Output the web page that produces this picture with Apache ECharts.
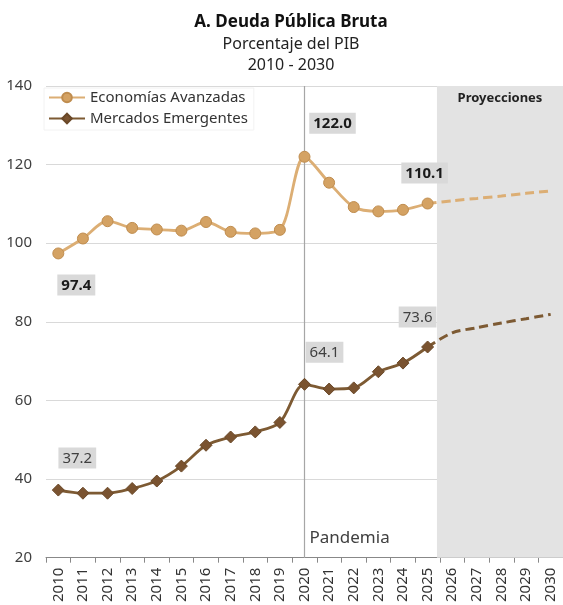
<!DOCTYPE html>
<html>
<head>
<meta charset="utf-8">
<script src="https://cdn.jsdelivr.net/npm/echarts@6/dist/echarts.min.js"></script>
<style>html,body{margin:0;padding:0;background:#fff}#c{width:563px;height:605px}</style>
</head>
<body>
<div id="c"></div>
<script>
const years = ['2010','2011','2012','2013','2014','2015','2016','2017','2018','2019','2020','2021','2022','2023','2024','2025','2026','2027','2028','2029','2030'];
const aeActual = [97.4,101.2,105.6,103.9,103.5,103.2,105.4,102.9,102.5,103.4,122.0,115.4,109.2,108.1,108.5,110.1];
const aeProj = [110.1,110.8,111.4,112.0,112.7,113.3];
const emActual = [37.2,36.4,36.4,37.6,39.5,43.3,48.6,50.7,52.0,54.4,64.1,62.9,63.2,67.3,69.5,73.6];
const emProj = [73.6,77.2,78.5,79.7,80.8,81.9];
const yTicks = {min:20, max:140, interval:20};
const pandemicIndex = 10;
const projStartIndex = 15.38;

const FONT = 'Noto Sans';
const aeColor = '#dcae74', aeMarker = '#d4a263', aeBorder = '#bf8c4e';
const emColor = '#7d5a33', emMarker = '#7a5330';

const aeLabels = {
  0: {position:'bottom', distance:15, offset:[18,0]},
  10:{position:'top', distance:17, offset:[28,0]},
  15:{position:'top', distance:14, offset:[-3,0]}
};
const emLabels = {
  0: {position:'top', distance:15, offset:[19,0]},
  10:{position:'top', distance:15, offset:[20,0]},
  15:{position:'top', distance:13, offset:[-10,0]}
};
function withLabels(arr, cfg, style){
  return arr.map((v,i)=> cfg[i] ? {value:v, label:Object.assign({show:true, formatter:(p)=>p.value.toFixed(1)}, style, cfg[i])} : v);
}
const labelBase = {backgroundColor:'#d9d9d9', padding:[3,4,2,4], fontSize:15, lineHeight:16, fontFamily:FONT};
const aeLabelStyle = Object.assign({}, labelBase, {color:'#1a1a1a', fontWeight:'bold'});
const emLabelStyle = Object.assign({}, labelBase, {color:'#404040'});
const pad = n => Array(n).fill(null);

const chart = echarts.init(document.getElementById('c'), null, {renderer:'canvas'});
chart.setOption({
  animation:false,
  textStyle:{fontFamily:FONT},
  title:{
    text:'A. Deuda Pública Bruta',
    subtext:'Porcentaje del PIB\n2010 - 2030',
    left:286, textAlign:'center', top:9, itemGap:3,
    textStyle:{fontSize:17, fontWeight:'bold', color:'#111', fontFamily:FONT},
    subtextStyle:{fontSize:16, color:'#222', fontFamily:FONT, lineHeight:21}
  },
  legend:{
    data:['Economías Avanzadas','Mercados Emergentes'],
    orient:'vertical', left:44, top:88, itemWidth:36, itemHeight:12, itemGap:6,
    backgroundColor:'#fff', borderColor:'#f2f2f2', borderWidth:1, padding:[2,6,4,4],
    textStyle:{fontSize:15, color:'#333', fontFamily:FONT}
  },
  grid:{left:46, right:-2, top:86, bottom:47, containLabel:false},
  xAxis:[{
    type:'category', data:years, boundaryGap:true,
    axisLine:{lineStyle:{color:'#888', width:1}},
    axisTick:{show:true, length:5, lineStyle:{color:'#888'}},
    axisLabel:{rotate:90, fontSize:15, color:'#333', margin:10, fontFamily:FONT},
    splitLine:{show:false}
  },{
    type:'value', min:-0.5, max:years.length-0.5, show:false, splitLine:{show:false}
  }],
  yAxis:{
    type:'value', min:yTicks.min, max:yTicks.max, interval:yTicks.interval,
    axisLine:{show:false}, axisTick:{show:false},
    axisLabel:{fontSize:15, color:'#404040', margin:14, fontFamily:FONT},
    splitLine:{lineStyle:{color:'#d9d9d9', width:1}}
  },
  series:[
    {
      name:'bg', type:'line', xAxisIndex:1, data:[], silent:true,
      markArea:{silent:true, itemStyle:{color:'#e3e3e3'},
        label:{show:true, position:'insideTop', distance:6, formatter:'Proyecciones', fontSize:13, fontWeight:'bold', color:'#222', fontFamily:FONT},
        data:[[{xAxis:projStartIndex, yAxis:yTicks.min},{xAxis:years.length-0.5, yAxis:yTicks.max}]]},
      markLine:{silent:true, symbol:['none','none'], label:{show:false},
        lineStyle:{color:'#a6a6a6', width:1.2, type:'solid'},
        data:[{xAxis:pandemicIndex}]},
      markPoint:{silent:true, symbol:'circle', symbolSize:0,
        label:{show:true, position:'right', distance:5, formatter:'Pandemia', fontSize:17, color:'#404040', fontFamily:FONT},
        data:[{coord:[pandemicIndex, 24.9]}]}
    },
    {
      name:'Economías Avanzadas', type:'line', data:withLabels(aeActual, aeLabels, aeLabelStyle),
      smooth:0.3, symbol:'circle', symbolSize:11, z:5,
      lineStyle:{color:aeColor, width:2.8},
      itemStyle:{color:aeMarker, borderColor:aeBorder, borderWidth:1}
    },
    {
      name:'AE proyección', type:'line', data:pad(15).concat(aeProj),
      smooth:0.3, showSymbol:false, symbol:'none', z:4,
      lineStyle:{color:aeColor, width:3, type:[9,5]}, itemStyle:{color:aeColor}
    },
    {
      name:'Mercados Emergentes', type:'line', data:withLabels(emActual, emLabels, emLabelStyle),
      smooth:0.3, symbol:'diamond', symbolSize:12, z:5,
      lineStyle:{color:emColor, width:2.8},
      itemStyle:{color:emMarker, borderColor:'#6a4828', borderWidth:1}
    },
    {
      name:'EM proyección', type:'line', data:pad(15).concat(emProj),
      smooth:0.3, showSymbol:false, symbol:'none', z:4,
      lineStyle:{color:emColor, width:3, type:[9,5]}, itemStyle:{color:emColor}
    }
  ]
});
</script>
</body>
</html>
